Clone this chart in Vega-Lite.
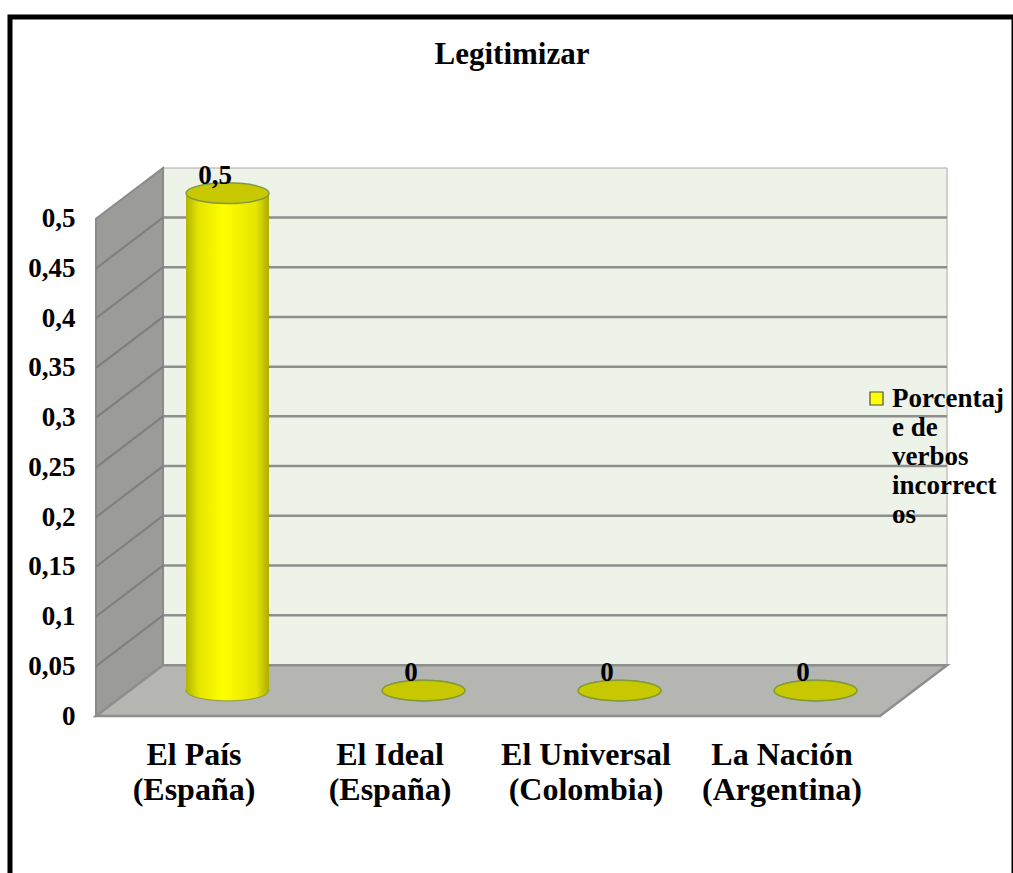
{
  "$schema": "https://vega.github.io/schema/vega-lite/v6.json",
  "width": 1004,
  "height": 880,
  "autosize": {"type": "none"},
  "padding": {"left": 10, "top": 17, "right": 0, "bottom": 0},
  "background": "white",
  "config": {
    "view": {"stroke": "#000000", "strokeWidth": 5, "fill": "white"},
    "locale": {"number": {"decimal": ",", "thousands": ".", "grouping": [3], "currency": ["", " €"]}},
    "font": "Liberation Serif"
  },
  "title": {
    "text": "Legitimizar",
    "font": "Liberation Serif",
    "fontSize": 31,
    "fontWeight": "bold",
    "color": "#000000",
    "anchor": "middle",
    "frame": "group",
    "baseline": "alphabetic",
    "offset": -78
  },
  "datasets": {
    "medios": [
      {"medio": "El País (España)", "valor": 0.5},
      {"medio": "El Ideal (España)", "valor": 0},
      {"medio": "El Universal (Colombia)", "valor": 0},
      {"medio": "La Nación (Argentina)", "valor": 0}
    ],
    "niveles": [
      {"v": 0.05}, {"v": 0.1}, {"v": 0.15}, {"v": 0.2}, {"v": 0.25},
      {"v": 0.3}, {"v": 0.35}, {"v": 0.4}, {"v": 0.45}
    ],
    "paredes": [
      {"prof": 0, "base": 0, "tope": 0.5, "izq": 0, "der": 4},
      {"prof": 0.342, "base": 0.051, "tope": 0.551, "izq": 0.342, "der": 4.342}
    ]
  },
  "layer": [
    {
      "layer": [
        {
          "data": {"values": [{}]},
          "mark": {"type": "rect", "fill": "#eef3ea", "stroke": "#a8a8a8", "strokeWidth": 1},
          "encoding": {
            "x": {"datum": 0.342, "type": "quantitative", "scale": {"domain": [0, 4], "range": [86, 870], "nice": false, "zero": false}, "axis": null},
            "x2": {"datum": 4.342},
            "y": {
              "datum": 0.051, "type": "quantitative",
              "scale": {"domain": [0, 0.55], "range": [699, 152], "nice": false, "zero": false},
              "axis": {
                "title": null, "values": [0, 0.05, 0.1, 0.15, 0.2, 0.25, 0.3, 0.35, 0.4, 0.45, 0.5],
                "format": ".2~f", "offset": -86, "labelPadding": 21, "ticks": false, "domain": false, "grid": false,
                "labelFont": "Liberation Serif", "labelFontSize": 27, "labelFontWeight": "bold", "labelColor": "#000000"
              }
            },
            "y2": {"datum": 0.551}
          }
        },
        {
          "data": {"name": "niveles"},
          "mark": {"type": "rule", "stroke": "#8e8e8e", "strokeWidth": 2.5, "yOffset": -51},
          "encoding": {
            "x": {"datum": 0.342, "type": "quantitative", "axis": null},
            "x2": {"datum": 4.342},
            "y": {"field": "v", "type": "quantitative", "title": null}
          }
        },
        {
          "data": {"name": "paredes"},
          "mark": {"type": "area", "orient": "vertical", "fill": "#9b9b97", "stroke": "#8a8a8a", "strokeWidth": 2},
          "encoding": {
            "x": {"field": "prof", "type": "quantitative", "axis": null},
            "y": {"field": "base", "type": "quantitative", "title": null},
            "y2": {"field": "tope"}
          }
        },
        {
          "data": {"name": "niveles"},
          "mark": {"type": "rule", "stroke": "#7e7e7e", "strokeWidth": 2, "y2Offset": -51},
          "encoding": {
            "x": {"datum": 0, "type": "quantitative", "axis": null},
            "x2": {"datum": 0.342},
            "y": {"field": "v", "type": "quantitative", "title": null},
            "y2": {"field": "v"}
          }
        },
        {
          "data": {"name": "paredes"},
          "mark": {"type": "area", "orient": "horizontal", "fill": "#b5b5b1", "stroke": "#8e8e8e", "strokeWidth": 2.5},
          "encoding": {
            "y": {"field": "base", "type": "quantitative", "title": null},
            "x": {"field": "izq", "type": "quantitative", "axis": null},
            "x2": {"field": "der"}
          }
        }
      ]
    },
    {
      "data": {"name": "medios"},
      "layer": [
        {
          "mark": {
            "type": "point", "filled": true, "opacity": 1, "size": 6889,
            "shape": "M-1,0A1,0.25,0,1,1,1,0A1,0.25,0,1,1,-1,0Z",
            "xOffset": 33.5, "yOffset": -25.5,
            "fill": {"gradient": "linear", "x1": 0, "x2": 1, "y1": 0, "y2": 0,
              "stops": [{"offset": 0, "color": "#b4b400"}, {"offset": 0.15, "color": "#e4e400"}, {"offset": 0.45, "color": "#ffff00"}, {"offset": 0.85, "color": "#e4e400"}, {"offset": 1, "color": "#acac00"}]},
            "stroke": "#8a9a40", "strokeWidth": 1
          },
          "encoding": {
            "x": {"field": "medio", "type": "nominal", "sort": null, "scale": {"range": [86, 870], "paddingInner": 0, "paddingOuter": 0},
              "axis": {
                "title": null, "orient": "bottom", "offset": -181, "labelPadding": 23, "ticks": false, "domain": false, "labelAngle": 0,
                "labelFont": "Liberation Serif", "labelFontSize": 32, "labelFontWeight": "bold", "labelColor": "#000000",
                "labelLineHeight": 35, "labelLimit": 0,
                "labelExpr": "split(replace(datum.label, ' (', '|('), '|')"
              }
            },
            "y": {"datum": 0, "type": "quantitative", "title": null}
          }
        },
        {
          "mark": {
            "type": "bar", "width": 83, "xOffset": 33.5, "yOffset": -25.5, "y2Offset": -25.5,
            "fill": {"gradient": "linear", "x1": 0, "x2": 1, "y1": 0, "y2": 0,
              "stops": [{"offset": 0, "color": "#b4b400"}, {"offset": 0.15, "color": "#e4e400"}, {"offset": 0.45, "color": "#ffff00"}, {"offset": 0.85, "color": "#e4e400"}, {"offset": 1, "color": "#acac00"}]}
          },
          "encoding": {
            "x": {"field": "medio", "type": "nominal", "sort": null, "title": null},
            "y": {"field": "valor", "type": "quantitative", "title": null},
            "y2": {"datum": 0}
          }
        },
        {
          "mark": {
            "type": "point", "filled": true, "opacity": 1, "size": 6889,
            "shape": "M-1,0A1,0.25,0,1,1,1,0A1,0.25,0,1,1,-1,0Z",
            "xOffset": 33.5, "yOffset": -25.5,
            "fill": "#c8c800", "stroke": "#7e9a3c", "strokeWidth": 1.5
          },
          "encoding": {
            "x": {"field": "medio", "type": "nominal", "sort": null, "title": null},
            "y": {"field": "valor", "type": "quantitative", "title": null}
          }
        },
        {
          "mark": {
            "type": "text", "font": "Liberation Serif", "fontSize": 27, "fontWeight": "bold", "color": "#000000",
            "align": "center", "baseline": "alphabetic", "xOffset": 21, "yOffset": -35
          },
          "encoding": {
            "x": {"field": "medio", "type": "nominal", "sort": null, "title": null},
            "y": {"field": "valor", "type": "quantitative", "title": null},
            "text": {"field": "valor", "type": "quantitative", "format": "~g"}
          }
        },
        {
          "mark": {"type": "point", "filled": true, "opacity": 0},
          "encoding": {
            "color": {
              "datum": "Porcentaje de verbos incorrectos", "type": "nominal",
              "scale": {"range": ["#ffff00"]},
              "legend": {
                "orient": "none", "legendX": 853, "legendY": 368, "title": null, "padding": 0,
                "symbolType": "square", "symbolSize": 170, "symbolStrokeColor": "#4d4d4d", "symbolStrokeWidth": 1.2,
                "symbolOpacity": 1, "symbolFillColor": "#ffff00",
                "labelFont": "Liberation Serif", "labelFontSize": 27, "labelFontWeight": "bold", "labelColor": "#000000",
                "labelOffset": 2, "labelLimit": 0,
                "labelExpr": "[slice(datum.label,0,9), slice(datum.label,9,13), slice(datum.label,14,20), slice(datum.label,21,30), slice(datum.label,30)]"
              }
            }
          }
        }
      ]
    }
  ],
  "resolve": {"scale": {"x": "independent"}}
}
